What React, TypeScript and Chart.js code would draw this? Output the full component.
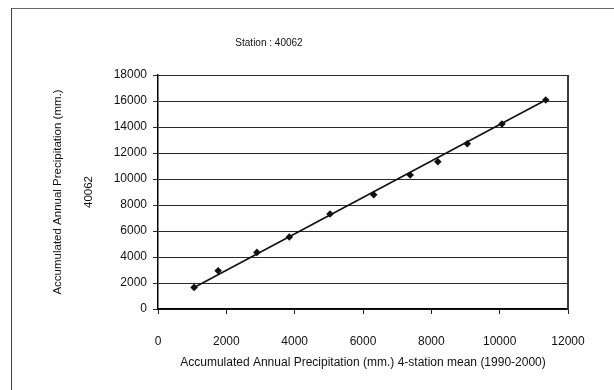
import React, { useEffect, useRef } from "react";
import { Chart, registerables } from "chart.js";

Chart.register(...registerables);

const chartTitle = "Station : 40062";
const xTitle = "Accumulated Annual Precipitation (mm.) 4-station mean (1990-2000)";
const yTitleLines = ["Accumulated Annual Precipitation (mm.)", "40062"];

// Accumulated 4-station mean (x) vs accumulated station 40062 (y), 1990-2000
const meanAccum = [1056, 1760, 2894, 3842, 5035, 6314, 7381, 8191, 9052, 10067, 11349];
const stationAccum = [1662, 2946, 4354, 5538, 7308, 8792, 10308, 11331, 12715, 14231, 16077];

// Linear trend line endpoints
const trendX = [1056, 11349];
const trendY = [1660, 16077];

const xMin = 0;
const xMax = 12000;
const xStep = 2000;
const yMin = 0;
const yMax = 18000;
const yStep = 2000;

const FONT = "'Liberation Sans', Arial, sans-serif";

export default function App() {
  const canvasRef = useRef<HTMLCanvasElement | null>(null);

  useEffect(() => {
    if (!canvasRef.current) return;

    const decorPlugin = {
      id: "decor",
      afterDraw(chart: any) {
        const { ctx, chartArea } = chart;
        ctx.save();
        ctx.strokeStyle = "#3a3a3a";
        ctx.lineWidth = 2;
        ctx.beginPath();
        ctx.moveTo(chartArea.right, chartArea.top);
        ctx.lineTo(chartArea.right, chartArea.bottom);
        ctx.stroke();
        ctx.fillStyle = "#111";
        ctx.font = `10px ${FONT}`;
        ctx.textAlign = "center";
        ctx.textBaseline = "middle";
        ctx.fillText(chartTitle, 257, 34);
        ctx.restore();
      },
    };

    const plain = (v: any) => String(v);

    const chart = new Chart(canvasRef.current, {
      type: "scatter",
      data: {
        datasets: [
          {
            type: "scatter",
            label: "40062",
            data: meanAccum.map((x, i) => ({ x, y: stationAccum[i] })),
            pointStyle: "rectRot",
            pointRadius: 3.8,
            backgroundColor: "#111",
            borderColor: "#111",
            borderWidth: 0,
            order: 1,
          },
          {
            type: "line",
            label: "Linear",
            data: trendX.map((x, i) => ({ x, y: trendY[i] })),
            borderColor: "#111",
            borderWidth: 1.6,
            pointRadius: 0,
            fill: false,
            order: 2,
          } as any,
        ],
      },
      options: {
        animation: false,
        responsive: false,
        layout: { padding: { top: 66, right: 46, left: 0, bottom: 0 } },
        plugins: {
          legend: { display: false },
          tooltip: { enabled: false },
          title: { display: false },
        },
        scales: {
          x: {
            type: "linear",
            position: "bottom",
            min: xMin,
            max: xMax,
            ticks: {
              stepSize: xStep,
              color: "#111",
              font: { family: FONT, size: 12, lineHeight: 1.2 },
              padding: 20,
              maxRotation: 0,
              callback: plain,
            },
            grid: {
              display: true,
              drawOnChartArea: false,
              drawTicks: true,
              tickLength: 5,
              color: "#222",
              lineWidth: 1,
            },
            border: { display: true, color: "#000", width: 1.5 },
            title: {
              display: true,
              text: xTitle,
              color: "#111",
              font: { family: FONT, size: 12, lineHeight: 1.2 },
              padding: { top: 0, bottom: 20 },
            },
            afterFit(scale: any) {
              scale.height = 81;
            },
          },
          y: {
            type: "linear",
            position: "left",
            min: yMin,
            max: yMax,
            ticks: {
              stepSize: yStep,
              color: "#111",
              font: { family: FONT, size: 12 },
              padding: 6,
              callback: plain,
            },
            grid: {
              display: true,
              drawOnChartArea: true,
              drawTicks: true,
              tickLength: 5,
              color: "#2a2a2a",
              lineWidth: 1,
            },
            border: { display: true, color: "#000", width: 1.5 },
            title: {
              display: true,
              text: yTitleLines,
              color: "#111",
              font: { family: FONT, size: 11.5, lineHeight: 31 / 11.5 },
              padding: { top: 30, bottom: 0 },
            },
            afterFit(scale: any) {
              scale.width = 146;
            },
          },
        },
      },
      plugins: [decorPlugin],
    });

    return () => chart.destroy();
  }, []);

  return (
    <div
      style={{
        position: "fixed",
        left: 11,
        top: 8,
        right: 0,
        bottom: 0,
        borderLeft: "1px solid #444",
        borderTop: "1px solid #666",
        background: "#fff",
      }}
    >
      <canvas
        ref={canvasRef}
        width={602}
        height={381}
        style={{ display: "block", width: 602, height: 381 }}
      />
    </div>
  );
}
